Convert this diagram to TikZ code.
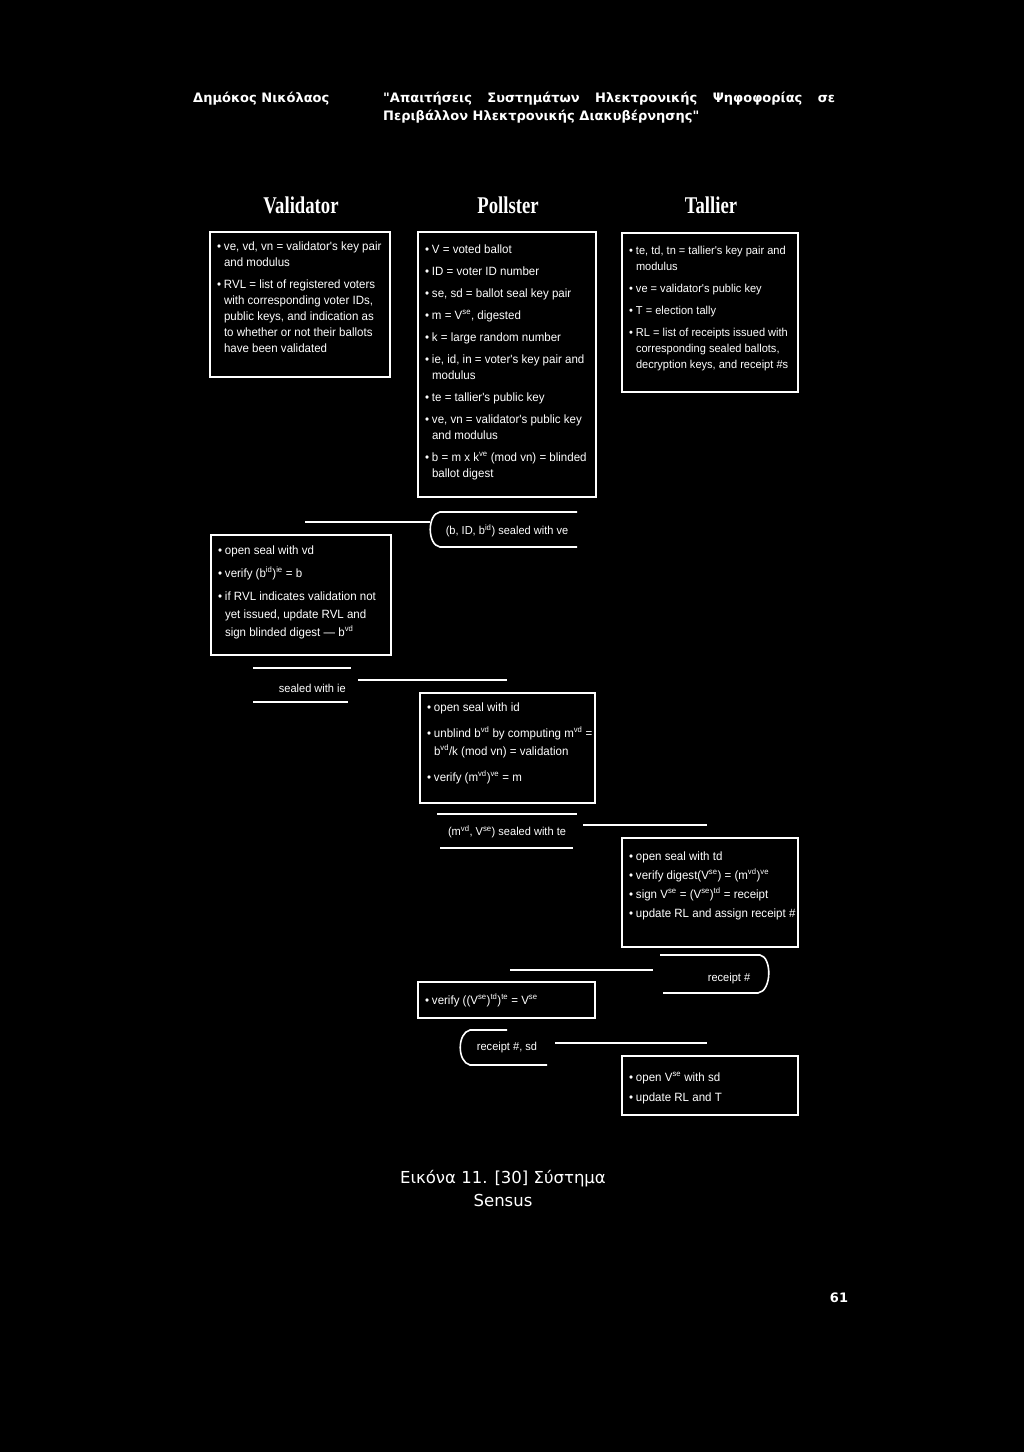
\documentclass[tikz,border=0pt]{standalone}
\usepackage{fontspec}
\setmainfont{Liberation Sans}
\newfontfamily\hdrfont{DejaVu Sans}
\newfontfamily\colfont[FakeStretch=0.78]{Liberation Serif}
\newfontfamily\bxfont[FakeStretch=0.96]{Liberation Sans}
\hfuzz=400pt \hbadness=10000 \vfuzz=100pt \vbadness=10000
\newcommand\itm[1]{\par\hangindent=7pt\hangafter=1\noindent\strut\makebox[7pt][l]{\textbullet}#1}
\newcommand\nl{\newline\strut}
\newcommand\su[1]{\textsuperscript{#1}}
% #1 width, #2 height, #3 top gap, #4 baselineskip, #5 parskip, #6 body
\newcommand\pbody[6]{\makebox[#1][l]{\begin{minipage}[c][#2][t]{320pt}\fontsize{12}{#4}\selectfont\setlength\parskip{#5}\raggedright\vspace*{#3}#6\end{minipage}}}
\tikzset{
  panel/.style={draw=white, line width=1.5pt, anchor=north west, inner xsep=7pt, inner ysep=0pt, outer sep=0pt, text=white, font=\bxfont},
  conn/.style={draw=white, line width=1.6pt},
  lbl/.style={text=white, font=\bxfont\fontsize{11.5}{14}\selectfont, inner sep=0pt},
  colhead/.style={text=white, font=\colfont\bfseries\fontsize{24}{28}\selectfont, inner sep=0pt},
  hdr/.style={text=white, font=\hdrfont\bfseries\fontsize{13}{15}\selectfont, inner sep=0pt, anchor=base west},
}
\begin{document}
\begin{tikzpicture}[x=1pt,y=-1pt]
\fill[black] (0,0) rectangle (1024,1452);
\useasboundingbox (0,0) rectangle (1024,1452);

% page header
\node[hdr] (author) at (193,102) {Δημόκος Νικόλαος};
\node[hdr] (title1) at (383,102) {\hbox to 452pt{"Απαιτήσεις\hfill Συστημάτων\hfill Ηλεκτρονικής\hfill Ψηφοφορίας\hfill σε}};
\node[hdr] (title2) at (383,120) {Περιβάλλον Ηλεκτρονικής Διακυβέρνησης"};

% column headings
\node[colhead] (hval) at (301,205) {Validator};
\node[colhead] (hpol) at (508,205) {Pollster};
\node[colhead] (htal) at (711,205) {Tallier};

% initial state boxes
\node[panel] (val1) at (210,232) {\pbody{166pt}{145pt}{6.8pt}{16pt}{6pt}{%
 \itm{ve, vd, vn = validator's key pair\nl and modulus}
 \itm{RVL = list of registered voters\nl with corresponding voter IDs,\nl public keys, and indication as\nl to whether or not their ballots\nl have been validated}}};

\node[panel] (pol1) at (418,232) {\pbody{164pt}{265pt}{9.8pt}{16pt}{6pt}{%
 \itm{V = voted ballot}
 \itm{ID = voter ID number}
 \itm{se, sd = ballot seal key pair}
 \itm{m = V\su{se}, digested}
 \itm{k = large random number}
 \itm{ie, id, in = voter's key pair and\nl modulus}
 \itm{te = tallier's public key}
 \itm{ve, vn = validator's public key\nl and modulus}
 \itm{b = m x k\su{ve} (mod vn) = blinded\nl ballot digest}}};

\node[panel] (tal1) at (622,233) {\pbody{162pt}{159pt}{9.8pt}{16pt}{6pt}{%
 \fontsize{11.5}{16}\selectfont
 \itm{te, td, tn = tallier's key pair and\nl modulus}
 \itm{ve = validator's public key}
 \itm{T = election tally}
 \itm{RL = list of receipts issued with\nl corresponding sealed ballots,\nl decryption keys, and receipt \#s}}};

% message 1
\coordinate (m1a) at (305,522);
\coordinate (m1b) at (430,522);
\coordinate (m1tr) at (577,512);
\coordinate (m1tl) at (440,512);
\coordinate (m1bl) at (440,547);
\coordinate (m1br) at (577,547);
\node[lbl] (msg1) at (507,531) {(b, ID, b\su{id}) sealed with ve};
\draw[conn] (m1a) -- (m1b);
\draw[conn] (m1tr) -- (m1tl) .. controls (427,514) and (427,545) .. (m1bl) -- (m1br);

% validator action
\node[panel] (val2) at (211,535) {\pbody{166pt}{120pt}{6.4pt}{18pt}{5pt}{%
 \itm{open seal with vd}
 \itm{verify (b\su{id})\su{ie} = b}
 \itm{if RVL indicates validation not\nl yet issued, update RVL and\nl sign blinded digest — b\su{vd}}}};

% message 2
\coordinate (m2tl) at (253,668);
\coordinate (m2tr) at (351,668);
\coordinate (m2bl) at (253,702);
\coordinate (m2br) at (348,702);
\coordinate (m2a) at (358,680);
\coordinate (m2b) at (507,680);
\node[lbl, anchor=east] (msg2) at (346,688) {sealed with ie};
\draw[conn] (m2tl) -- (m2tr);
\draw[conn] (m2bl) -- (m2br);
\draw[conn] (m2a) -- (m2b);

% pollster action
\node[panel] (pol2) at (420,693) {\pbody{161pt}{110pt}{5.4pt}{18pt}{8pt}{%
 \itm{open seal with id}
 \itm{unblind b\su{vd} by computing m\su{vd} =\nl b\su{vd}/k (mod vn) = validation}
 \itm{verify (m\su{vd})\su{ve} = m}}};

% message 3
\coordinate (m3tl) at (437,814);
\coordinate (m3tr) at (577,814);
\coordinate (m3bl) at (440,848);
\coordinate (m3br) at (573,848);
\coordinate (m3a) at (583,825);
\coordinate (m3b) at (707,825);
\node[lbl] (msg3) at (507,832) {(m\su{vd}, V\su{se}) sealed with te};
\draw[conn] (m3tl) -- (m3tr);
\draw[conn] (m3bl) -- (m3br);
\draw[conn] (m3a) -- (m3b);

% tallier action
\node[panel] (tal2) at (622,838) {\pbody{162pt}{109pt}{11.5pt}{15pt}{4pt}{%
 \itm{open seal with td}
 \itm{verify digest(V\su{se}) = (m\su{vd})\su{ve}}
 \itm{sign V\su{se} = (V\su{se})\su{td} = receipt}
 \itm{update RL and assign receipt \#}}};

% message 4
\coordinate (m4a) at (510,970);
\coordinate (m4b) at (653,970);
\coordinate (m4tl) at (660,955);
\coordinate (m4tr) at (760,955);
\coordinate (m4br) at (758,993);
\coordinate (m4bl) at (663,993);
\node[lbl] (msg4) at (729,979) {receipt \#};
\draw[conn] (m4a) -- (m4b);
\draw[conn] (m4tl) -- (m4tr) .. controls (772,957) and (772,991) .. (m4br) -- (m4bl);

% pollster verify
\node[panel] (pol3) at (418,982) {\pbody{163pt}{36pt}{10.8pt}{16pt}{4pt}{%
 \itm{verify ((V\su{se})\su{td})\su{te} = V\su{se}}}};

% message 5
\coordinate (m5tr) at (507,1030);
\coordinate (m5tl) at (470,1030);
\coordinate (m5bl) at (470,1065);
\coordinate (m5br) at (547,1065);
\coordinate (m5a) at (555,1043);
\coordinate (m5b) at (707,1043);
\node[lbl] (msg5) at (507,1048) {receipt \#, sd};
\draw[conn] (m5tr) -- (m5tl) .. controls (457,1033) and (457,1062) .. (m5bl) -- (m5br);
\draw[conn] (m5a) -- (m5b);

% tallier final
\node[panel] (tal3) at (622,1056) {\pbody{162pt}{59pt}{13.8pt}{16pt}{4pt}{%
 \itm{open V\su{se} with sd}
 \itm{update RL and T}}};

% caption and page number
\node[text=white, font=\hdrfont\fontsize{16.5}{23}\selectfont, align=center, inner sep=0pt] (cap) at (503,1189) {Εικόνα 11. [30] Σύστημα\\Sensus};
\node[text=white, font=\hdrfont\bfseries\fontsize{13}{15}\selectfont, inner sep=0pt] (pnum) at (839,1298) {61};
\end{tikzpicture}
\end{document}
